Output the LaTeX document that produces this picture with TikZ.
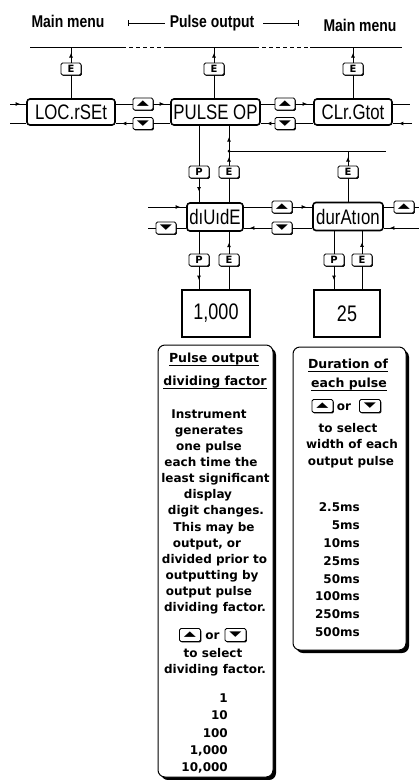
\documentclass[tikz,border=0pt]{standalone}
\usepackage{fontspec}
\usepackage{graphicx}
\setmainfont{DejaVu Sans}
\newfontfamily\hdrfont[FakeStretch=0.82]{Liberation Sans}
\newfontfamily\lcdfont[FakeStretch=0.8]{Liberation Sans}
\newfontfamily\symfont{DejaVu Sans}
\usetikzlibrary{arrows.meta,decorations.markings,shadows}
\newcommand\kup{{\symfont\fontsize{9}{9}\selectfont\scalebox{1.75}[0.8]{▲}}}
\newcommand\kdn{{\symfont\fontsize{9}{9}\selectfont\scalebox{1.75}[0.8]{▼}}}
\newcommand\ulx[1]{\setbox0\hbox{#1}\rlap{\rule[-4pt]{\wd0}{1.1pt}}\box0}
\begin{document}
\begin{tikzpicture}[x=1pt,y=-1pt,
  ln/.style={line width=0.8pt},
  arr/.style={ln, decoration={markings, mark=at position -6pt with {\arrow{Latex[length=4.5pt,width=4pt]}}}, postaction={decorate}},
  arrp/.style={ln, decoration={markings, mark=at position #1 with {\arrow{Latex[length=4.5pt,width=4pt]}}}, postaction={decorate}},
  hdr/.style={font=\hdrfont\bfseries\fontsize{17}{17}\selectfont, inner sep=0pt},
  lcd/.style={draw, line width=1.6pt, rounded corners=3pt, fill=white, font=\lcdfont\fontsize{21}{21}\selectfont, inner sep=0pt, minimum height=26pt},
  val/.style={draw, line width=1.3pt, fill=white, font=\lcdfont\fontsize{22.5}{22.5}\selectfont, inner sep=0pt, minimum height=47pt},
  key/.style={draw, line width=0.9pt, rounded corners=1.5pt, fill=white, minimum width=20pt, minimum height=12pt, inner sep=0pt,
    font=\bfseries\fontsize{10}{10}\selectfont, drop shadow={shadow xshift=0.9pt, shadow yshift=-0.9pt, opacity=1, fill=black}},
  bigkey/.style={key, minimum width=21pt, minimum height=13pt},
  tbox/.style={draw, line width=1pt, rounded corners=7pt, fill=white, inner sep=0pt,
    drop shadow={shadow xshift=3pt, shadow yshift=-3pt, opacity=1, fill=black}},
  bt/.style={font=\bfseries\fontsize{12}{14}\selectfont, inner sep=0pt, anchor=base},
  bth/.style={bt, font=\bfseries\fontsize{12.5}{14}\selectfont}
]
\useasboundingbox (0,0) rectangle (419,780);

% headers
\node[hdr] (mm1) at (68,21) {Main menu};
\node[hdr] (po) at (212,23) {Pulse output};
\node[hdr] (mm2) at (360,25) {Main menu};
\coordinate (pol) at (128,23);
\coordinate (por) at (299,23);
\draw[ln,{Bar[width=6pt]}-] (pol) -- ([xshift=-5pt]po.west);
\draw[ln,-{Bar[width=6pt]}] ([xshift=9pt]po.east) -- (por);

% top menu line
\coordinate (t1a) at (30,47);
\coordinate (t1b) at (122,47);
\coordinate (t2a) at (167,47);
\coordinate (t2b) at (255,47);
\coordinate (t3a) at (310,47);
\coordinate (t3b) at (402,47);
\draw[ln] (t1a) -- (t1b);
\draw[ln,dash pattern=on 4pt off 3pt] (t1b) -- (t2a);
\draw[ln] (t2a) -- (t2b);
\draw[ln,dash pattern=on 4pt off 3pt] (t2b) -- (t3a);
\draw[ln] (t3a) -- (t3b);

% row 1
\node[lcd, minimum width=88pt] (loc) at (71,112) {LOC.rSEt};
\node[lcd, minimum width=89pt] (pulse) at (215.5,112) {PULSE OP};
\node[lcd, minimum width=78pt] (clr) at (353,112) {CLr.Gtot};

\node[key] (e1) at (71,69) {E};
\node[key] (e2) at (214,69) {E};
\node[key] (e3) at (353,69) {E};
\draw[ln] (loc.north) -- (e1.south);
\draw[arr] (e1.north) -- (e1 |- t1a);
\draw[ln] (e2 |- pulse.north) -- (e2.south);
\draw[arr] (e2.north) -- (e2 |- t2a);
\draw[ln] (e3 |- clr.north) -- (e3.south);
\draw[arr] (e3.north) -- (e3 |- t3a);

\node[key] (u1) at (143,104) {\kup};
\node[key] (d1) at (143,123.5) {\kdn};
\node[key] (u2) at (285,104) {\kup};
\node[key] (d2) at (285,123.5) {\kdn};
\coordinate (li1) at (10,104);
\coordinate (lo1) at (10,123.5);
\coordinate (ro1) at (410,104);
\coordinate (ri1) at (412,123.5);
\draw[arr] (li1) -- (li1 -| loc.west);
\draw[ln] (lo1 -| loc.west) -- (lo1);
\draw[ln] (u1 -| loc.east) -- (u1.west);
\draw[arr] (u1.east) -- (u1 -| pulse.west);
\draw[ln] (d1 -| pulse.west) -- (d1.east);
\draw[arr] (d1.west) -- (d1 -| loc.east);
\draw[ln] (u2 -| pulse.east) -- (u2.west);
\draw[arr] (u2.east) -- (u2 -| clr.west);
\draw[ln] (d2 -| clr.west) -- (d2.east);
\draw[arr] (d2.west) -- (d2 -| pulse.east);
\draw[ln] (ro1 -| clr.east) -- (ro1);
\draw[arr] (ri1) -- (ri1 -| clr.east);

% row 2
\node[lcd, minimum width=56pt, minimum height=28pt] (div) at (215,217) {dıUıdE};
\node[lcd, minimum width=70pt, minimum height=28pt] (dur) at (348,216.5) {durAtıon};

\node[key] (p1) at (199,172) {P};
\node[key] (e4) at (229,172) {E};
\node[key] (e5) at (348,172) {E};
\coordinate (jn) at (229,151);
\coordinate (hr) at (386,151);
\draw[ln] (p1 |- pulse.south) -- (p1.north);
\draw[arrp=0.55] (p1.south) -- (p1 |- div.north);
\draw[ln] (e4 |- div.north) -- (e4.south);
\draw[arr] (e4.north) -- (jn);
\draw[arrp=0.55] (jn) -- (jn |- pulse.south);
\draw[ln] (jn) -- (hr);
\fill (jn) circle (1.5pt);
\draw[ln] (e5 |- dur.north) -- (e5.south);
\draw[arr] (e5.north) -- (e5 |- jn);

\node[key] (d3) at (166,228) {\kdn};
\node[key] (u4) at (282,207) {\kup};
\node[key] (d4) at (282,228) {\kdn};
\node[key] (u5) at (404,207) {\kup};
\coordinate (li2) at (148,207);
\coordinate (lo2) at (148,228);
\coordinate (ro2) at (419,207);
\coordinate (ri2) at (419,228);
\draw[arr] (li2) -- (li2 -| div.west);
\draw[ln] (d3 -| div.west) -- (d3.east);
\draw[ln] (d3.west) -- (lo2);
\draw[ln] (u4 -| div.east) -- (u4.west);
\draw[arr] (u4.east) -- (u4 -| dur.west);
\draw[ln] (d4 -| dur.west) -- (d4.east);
\draw[arr] (d4.west) -- (d4 -| div.east);
\draw[ln] (u5 -| dur.east) -- (u5.west);
\draw[ln] (u5.east) -- (ro2);
\draw[arr] (ri2) -- (ri2 -| dur.east);

% row 3
\node[val, minimum width=68pt] (v1) at (216,313.5) {1,000};
\node[val, minimum width=66pt] (v2) at (347,313.5) {25};
\node[key] (p2) at (199,260) {P};
\node[key] (e6) at (229,260) {E};
\node[key] (p3) at (334,260) {P};
\node[key] (e7) at (362,260) {E};
\draw[ln] (p2 |- div.south) -- (p2.north);
\draw[arrp=0.6] (p2.south) -- (p2 |- v1.north);
\draw[ln] (e6 |- v1.north) -- (e6.south);
\draw[arrp=0.5] (e6.north) -- (e6 |- div.south);
\draw[ln] (p3 |- dur.south) -- (p3.north);
\draw[arrp=0.6] (p3.south) -- (p3 |- v2.north);
\draw[ln] (e7 |- v2.north) -- (e7.south);
\draw[arrp=0.5] (e7.north) -- (e7 |- dur.south);

% text boxes
\node[tbox, minimum width=115pt, minimum height=432pt] (lb) at (215.5,561) {};
\node[tbox, minimum width=113pt, minimum height=303pt] (rb) at (349.5,498.5) {};

% left box text
\node[bth] (lh1) at (214,362) {\ulx{Pulse output}};
\node[bth] (lh2) at (215,385) {\ulx{dividing factor}};
\foreach \x/\y/\t [count=\i] in {209/418/Instrument, 209/434/generates, 209/450/one pulse,
  211/466/each time the, 215.5/482/least significant, 208/498/display, 216/514/digit changes.,
  214/531/This may be, 207/547/{output, or}, 214.5/563/divided prior to, 212/579/outputting by,
  209/595/output pulse, 215/611/dividing factor., 213/657/to select, 215/673/dividing factor.}
  \node[bt] (lt\i) at (\x,\y) {\t};
\node[bigkey] (lku) at (190,635) {\kup};
\node[bt] (lor) at (212.5,639) {or};
\node[bigkey] (lkd) at (235.5,635) {\kdn};
\foreach \y/\t [count=\i] in {702/1, 719/10, 737/100, 754/{1,000}, 771/{10,000}}
  \node[bt, anchor=base east] (ll\i) at (228,\y) {\t};

% right box text
\node[bth] (rh1) at (348,368) {\ulx{Duration of\vphantom{p}}};
\node[bth] (rh2) at (349,387) {\ulx{each pulse}};
\node[bigkey] (rku) at (322.5,406) {\kup};
\node[bt] (ror) at (344,410) {or};
\node[bigkey] (rkd) at (370,406) {\kdn};
\foreach \x/\y/\t [count=\i] in {348/432/to select, 352/448/width of each, 351/465/output pulse}
  \node[bt] (rt\i) at (\x,\y) {\t};
\foreach \y/\t [count=\i] in {511/2.5ms, 529/5ms, 547/10ms, 565/25ms, 583/50ms, 600/100ms, 618/250ms, 636/500ms}
  \node[bt, anchor=base east] (rl\i) at (360,\y) {\t};
\end{tikzpicture}
\end{document}
